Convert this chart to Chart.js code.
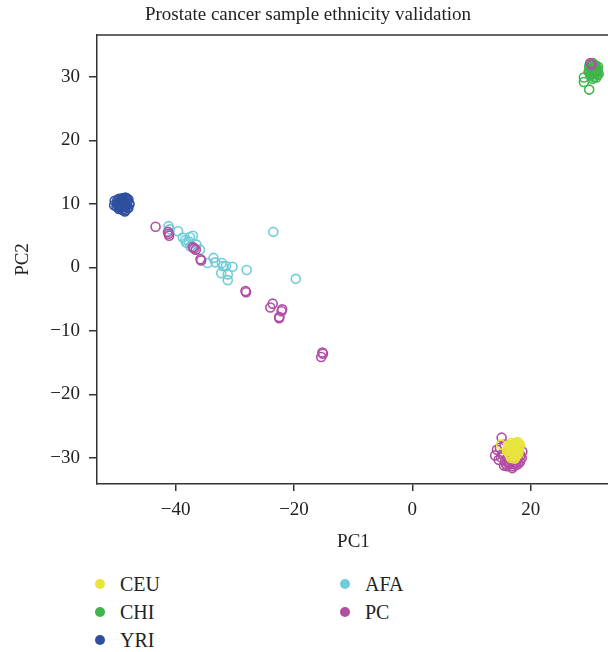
<!DOCTYPE html>
<html>
<head>
<meta charset="utf-8">
<script src="https://cdn.jsdelivr.net/npm/chart.js@4.4.1/dist/chart.umd.min.js"></script>
<style>
  body { margin: 0; background: #fff; font-family: "Liberation Serif", "DejaVu Serif", serif; }
  #wrap { position: relative; width: 608px; height: 560px; overflow: hidden; }
  #legend {
    display: grid; grid-auto-flow: column; grid-template-rows: repeat(3, 28px);
    grid-template-columns: 245px 245px; margin: 10px 0 0 95px;
    font-size: 20px; color: #222;
  }
  .item { display: flex; align-items: center; }
  .dot { width: 10px; height: 10px; border-radius: 50%; margin-right: 15px; }
</style>
</head>
<body>
<div id="wrap"><canvas id="myChart" width="616" height="560"></canvas></div>
<div id="legend"></div>
<script>
// series values (PC1, PC2)
var ceuX = [16.2, 16.8, 17.3, 17.8, 18.1, 16.5, 17.0, 17.6, 18.0, 16.3, 16.9, 17.4, 17.9, 16.6, 17.2, 17.7, 16.0, 16.4, 17.1, 17.5, 15.0, 18.2, 16.7, 17.3,
            17.0, 17.5, 16.8, 17.8, 16.5, 17.2, 17.6, 16.9, 17.4, 16.2, 18.0, 16.7];
var ceuY = [-28.0, -27.6, -27.8, -27.5, -28.1, -28.6, -28.4, -28.3, -28.8, -29.2, -29.0, -29.1, -29.3, -29.7, -29.6, -29.5, -28.9, -28.2, -28.9, -28.6, -27.9, -27.9, -30.0, -30.1,
            -28.8, -28.0, -28.3, -28.9, -29.4, -29.2, -27.7, -27.9, -29.8, -28.6, -28.4, -29.0];

var chiX = [30.0, 30.5, 31.0, 31.4, 30.2, 30.8, 31.2, 29.8, 30.4, 31.0, 31.5, 30.1, 30.7, 31.3, 30.5, 31.1, 29.9, 30.6, 29.0, 29.0, 29.9, 30.9,
            30.4, 30.9, 31.1, 30.3, 30.7, 31.3, 30.0, 30.6];
var chiY = [32.0, 32.2, 31.8, 31.6, 31.3, 31.4, 31.0, 30.8, 30.6, 30.9, 30.5, 30.2, 30.0, 30.3, 29.7, 29.9, 31.6, 31.9, 29.9, 29.2, 28.0, 30.5,
            31.2, 31.7, 30.7, 30.4, 30.8, 31.2, 31.0, 31.5];

var yriX = [-50.3, -49.6, -49.0, -48.5, -48.0, -49.8, -49.2, -48.7, -48.2, -47.8, -50.0, -49.4, -48.9, -48.4, -48.0, -49.6, -49.0, -48.5, -48.1, -50.4, -48.6, -49.3, -48.3, -49.8,
            -49.5, -49.0, -48.5, -48.9, -49.3, -48.4, -49.7, -49.1, -48.8, -49.4, -48.2, -48.7, -49.9, -49.2, -48.6, -49.5];
var yriY = [10.5, 10.8, 10.9, 11.0, 10.7, 10.1, 10.3, 10.4, 10.2, 10.0, 9.6, 9.7, 9.8, 9.5, 9.4, 9.2, 9.1, 9.0, 9.3, 9.8, 8.8, 10.6, 10.9, 9.9,
            10.4, 10.6, 10.1, 9.5, 9.3, 9.8, 10.0, 10.0, 10.3, 9.9, 10.5, 9.6, 10.5, 10.8, 10.8, 9.5];

var afaX = [-41.2, -41.0, -39.6, -38.8, -37.6, -37.1, -38.2, -38.4, -37.8, -36.5, -35.9, -33.6, -34.6, -33.3, -32.2, -31.5, -30.4, -32.3, -31.2, -31.2, -28.0, -23.5, -19.7, -32.0, -37.5];
var afaY = [6.5, 6.0, 5.7, 4.7, 4.8, 5.0, 3.9, 4.3, 4.1, 3.6, 2.8, 1.5, 0.7, 0.8, 0.7, 0.2, 0.1, -0.9, -1.1, -2.0, -0.4, 5.6, -1.8, 0.2, 3.3];

var pcX = [-43.4, -41.3, -41.1, -41.2, -37.1, -36.6, -36.9, -35.8, -35.7, -28.2, -28.1, -23.6, -24.0, -22.0, -22.1, -22.5, -22.5, -15.2, -15.4, -15.1,
           30.1, 30.3,
           15.1, 14.3, 14.0, 14.6, 15.5, 16.0, 15.2, 16.4, 17.0, 17.6, 18.2, 18.5, 17.8, 16.8, 17.3, 18.0, 16.2, 15.6, 17.5, 18.6, 16.9, 14.8, 15.8, 17.1,
           16.5, 17.2, 15.7, 18.3, 16.0, 17.9, 15.0];
var pcY = [6.4, 5.6, 5.0, 5.3, 3.2, 2.8, 3.0, 1.3, 1.1, -3.7, -3.9, -5.7, -6.3, -6.6, -6.9, -7.8, -8.0, -13.4, -14.1, -13.6,
           32.2, 31.9,
           -26.8, -28.7, -29.6, -30.3, -31.2, -30.6, -29.4, -31.0, -31.3, -31.1, -30.6, -30.0, -30.2, -30.4, -29.8, -29.3, -29.9, -27.9, -30.8, -29.0, -31.6, -28.4, -30.9, -30.0,
           -30.8, -31.0, -30.3, -29.6, -31.3, -30.9, -29.9];

var seriesNames = ['CEU', 'CHI', 'YRI', 'AFA', 'PC'];
var seriesColors = ['#e9e43c', '#3fb54b', '#2f4f9f', '#6ecdd9', '#b24da4'];
var xTicks = [-40, -20, 0, 20];
var yTicks = [-30, -20, -10, 0, 10, 20, 30];

function toPoints(xs, ys) {
  return xs.map(function (x, i) { return { x: x, y: ys[i] }; });
}

var allX = [ceuX, chiX, yriX, afaX, pcX];
var allY = [ceuY, chiY, yriY, afaY, pcY];
// lower order is drawn on top
var drawOrder = [0, 2, 4, 3, 1];

var datasets = seriesNames.map(function (name, i) {
  return {
    label: name,
    data: toPoints(allX[i], allY[i]),
    order: drawOrder[i],
    pointStyle: 'circle',
    pointRadius: 4.5,
    pointBorderWidth: 1.6,
    borderColor: seriesColors[i],
    backgroundColor: 'rgba(0,0,0,0)'
  };
});

var serif = '"Liberation Serif", "DejaVu Serif", serif';
var ink = '#333';

// frame line along the top of the plot area
var topLine = {
  id: 'topLine',
  afterDraw: function (chart) {
    var ctx = chart.ctx, a = chart.chartArea;
    ctx.save();
    ctx.strokeStyle = ink;
    ctx.lineWidth = 1.5;
    ctx.beginPath();
    ctx.moveTo(a.left, a.top);
    ctx.lineTo(chart.width, a.top);
    ctx.stroke();
    ctx.restore();
  }
};

function minus(v) { return String(v).replace('-', '\u2212'); }

var ctx = document.getElementById('myChart');
var myChart = new Chart(ctx, {
  type: 'scatter',
  data: { datasets: datasets },
  plugins: [topLine],
  options: {
    responsive: false,
    animation: false,
    layout: { padding: 0 },
    plugins: {
      legend: { display: false },
      tooltip: { enabled: false },
      title: {
        display: true,
        text: 'Prostate cancer sample ethnicity validation',
        color: '#222',
        font: { family: serif, size: 19, weight: 'normal' },
        padding: { top: 4, bottom: 8.2 }
      }
    },
    scales: {
      x: {
        min: -53.3, max: 33.4,
        afterFit: function (s) { s.height = 76; },
        afterBuildTicks: function (s) { s.ticks = xTicks.map(function (v) { return { value: v }; }); },
        grid: { drawOnChartArea: false, drawTicks: true, tickLength: 7, color: ink, lineWidth: 1.5 },
        border: { display: true, color: ink, width: 1.5 },
        ticks: { color: '#222', padding: 8, font: { family: serif, size: 19 }, callback: minus },
        title: { display: true, text: 'PC1', color: '#222', font: { family: serif, size: 19 }, padding: { top: 4, bottom: 7 } }
      },
      y: {
        min: -34.1, max: 36.6,
        afterFit: function (s) { s.width = 97; },
        afterBuildTicks: function (s) { s.ticks = yTicks.map(function (v) { return { value: v }; }); },
        grid: { drawOnChartArea: false, drawTicks: true, tickLength: 8, color: ink, lineWidth: 1.5 },
        border: { display: true, color: ink, width: 1.5 },
        ticks: { color: '#222', padding: 9, font: { family: serif, size: 19 }, callback: minus },
        title: { display: true, text: 'PC2', color: '#222', font: { family: serif, size: 19 }, padding: { top: 12, bottom: 4 } }
      }
    }
  }
});

// legend in two columns, filled dots like the original
function drawLegend(chart) {
  var box = document.getElementById('legend');
  chart.data.datasets.forEach(function (ds) {
    var item = document.createElement('div');
    item.className = 'item';
    var dot = document.createElement('span');
    dot.className = 'dot';
    dot.style.background = ds.borderColor;
    item.appendChild(dot);
    item.appendChild(document.createTextNode(ds.label));
    box.appendChild(item);
  });
}
drawLegend(myChart);
</script>
</body>
</html>
